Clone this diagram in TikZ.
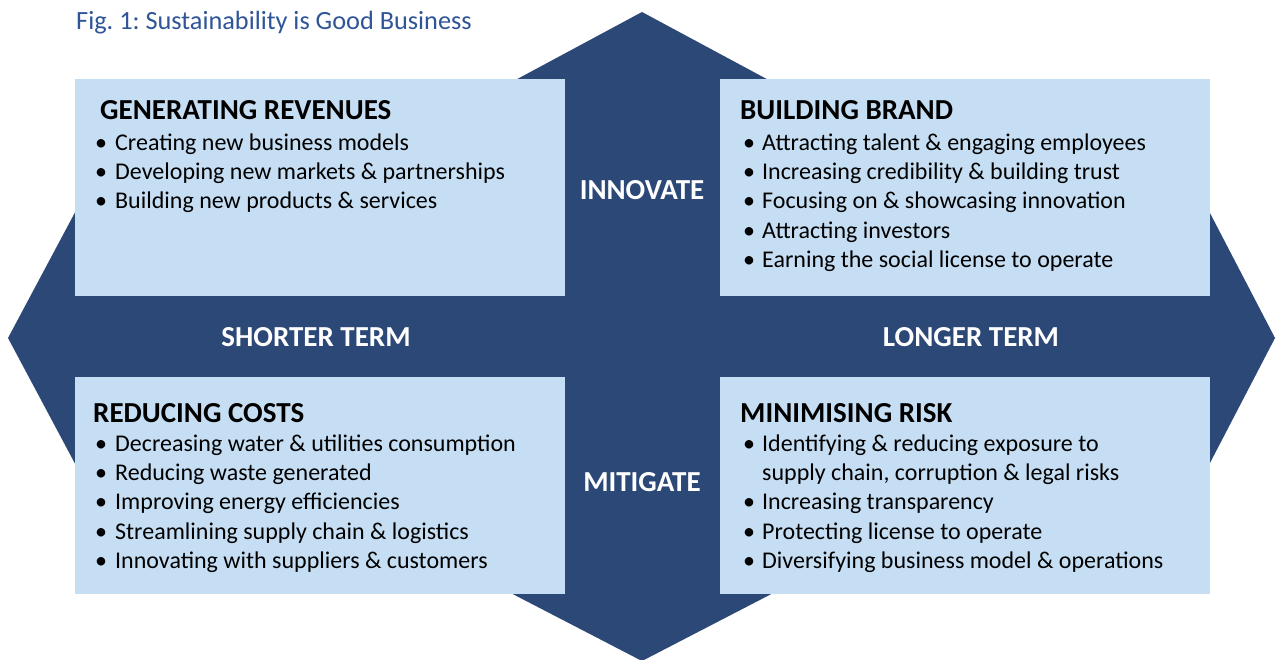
\documentclass[tikz,border=0pt]{standalone}
\usepackage{fontspec}
\setmainfont{Carlito}
\usepackage{array}
\frenchspacing
\definecolor{navy}{HTML}{2C4877}
\definecolor{pale}{HTML}{C6DEF3}
\definecolor{titleblue}{HTML}{2F5597}
\newcommand{\bul}{\textbullet}
\tikzset{
  panel/.style={fill=pale, draw=none, inner sep=0pt, outer sep=0pt, minimum width=490pt, minimum height=217pt},
  tag/.style={text=white, font=\fontsize{29}{32}\selectfont\bfseries, inner sep=0pt},
  listtext/.style={anchor=base west, inner sep=0pt, text=black, font=\fontsize{24}{29.3}\selectfont}
}
\newcommand{\hd}[1]{\multicolumn{2}{@{}l@{}}{\fontsize{29}{29.3}\selectfont\bfseries #1}}
\begin{document}
\begin{tikzpicture}[x=1pt,y=-1pt]
\useasboundingbox (0,0) rectangle (1275,659);
% navy cross with four arrow heads
\fill[navy] (565,79) rectangle (720,593);
\fill[navy] (75,296) rectangle (1210,377);
\fill[navy] (642,12) -- (843,120) -- (441,120) -- cycle;
\fill[navy] (642,661) -- (837,560) -- (447,560) -- cycle;
\fill[navy] (8,338) -- (120,128) -- (120,548) -- cycle;
\fill[navy] (1275,338) -- (1160,117) -- (1160,559) -- cycle;
% panels
\node[panel] (pTL) at (320,187.5) {};
\node[panel] (pTR) at (965,187.5) {};
\node[panel] (pBL) at (320,485) {};
\node[panel] (pBR) at (965,485) {};
% title
\node[anchor=base west, inner sep=0pt, text=titleblue, font=\fontsize{26.3}{30}\selectfont] (title) at (76,29) {Fig. 1: Sustainability is Good Business};
% tags
\node[tag] (innovate) at (642,190) {INNOVATE};
\node[tag] (mitigate) at (642,482) {MITIGATE};
\node[tag] (shorter) at (316,337) {SHORTER TERM};
\node[tag] (longer) at (971,337) {LONGER TERM};
% lists
\node[listtext] (tGR) at (95,119) {\begin{tabular}[t]{@{}p{20pt}@{}l@{}}
\hd{\hspace{5pt}GENERATING REVENUES}\\[2pt]
\bul & Creating new business models\\
\bul & Developing new markets \& partnerships\\
\bul & Building new products \& services
\end{tabular}};
\node[listtext] (tBB) at (743,119) {\begin{tabular}[t]{@{}p{19pt}@{}l@{}}
\hd{\hspace{-3pt}BUILDING BRAND}\\[2pt]
\bul & Attracting talent \& engaging employees\\
\bul & Increasing credibility \& building trust\\
\bul & Focusing on \& showcasing innovation\\
\bul & Attracting investors\\
\bul & Earning the social license to operate
\end{tabular}};
\node[listtext] (tRC) at (95,422) {\begin{tabular}[t]{@{}p{20pt}@{}l@{}}
\hd{\hspace{-2pt}REDUCING COSTS}\\
\bul & Decreasing water \& utilities consumption\\
\bul & Reducing waste generated\\
\bul & Improving energy efficiencies\\
\bul & Streamlining supply chain \& logistics\\
\bul & Innovating with suppliers \& customers
\end{tabular}};
\node[listtext] (tMR) at (743,422) {\begin{tabular}[t]{@{}p{19pt}@{}l@{}}
\hd{\hspace{-3pt}MINIMISING RISK}\\
\bul & Identifying \& reducing exposure to\\
 & supply chain, corruption \& legal risks\\
\bul & Increasing transparency\\
\bul & Protecting license to operate\\
\bul & Diversifying business model \& operations
\end{tabular}};
\end{tikzpicture}
\end{document}
